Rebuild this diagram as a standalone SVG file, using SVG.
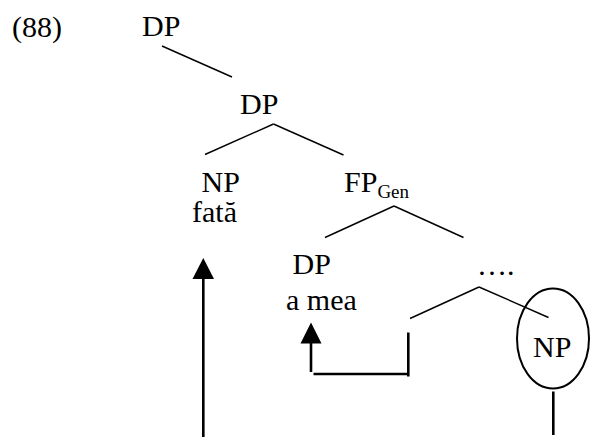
<svg xmlns="http://www.w3.org/2000/svg" width="590" height="442" viewBox="0 0 590 442">
<defs>
<style>
.tree{stroke:#000;stroke-width:1.4;fill:none}
.mv{stroke:#000;stroke-width:2.6;fill:none}
</style>
</defs>
<rect width="590" height="442" fill="#fff"/>
<g font-family="Liberation Serif, Times New Roman, DejaVu Serif, serif" font-size="30" fill="#000">
<text x="12" y="37">(88)</text>
<g id="dp-top"><text x="142" y="36">DP</text></g>
<g id="dp2"><text x="240" y="114">DP</text></g>
<g id="np-fata"><text x="201.5" y="191.5">NP</text><text x="192" y="222">fată</text></g>
<g id="fp-gen"><text x="344" y="192">FP<tspan font-size="19" dy="5.5">Gen</tspan></text></g>
<g id="dp-amea"><text x="292.5" y="274">DP</text><text x="286" y="310">a mea</text></g>
<g id="dots"><text x="477" y="275">….</text></g>
<g id="np-circle"><ellipse cx="553" cy="338.5" rx="36" ry="50" fill="none" stroke="#000" stroke-width="2"/><text x="533" y="356.5">NP</text></g>
</g>
<g id="connectors">
<line class="tree" x1="162" y1="46" x2="232" y2="77"/>
<line class="tree" x1="273.5" y1="124" x2="205" y2="154.5"/>
<line class="tree" x1="273.5" y1="124" x2="343.5" y2="155"/>
<line class="tree" x1="394" y1="206" x2="325" y2="237.5"/>
<line class="tree" x1="394" y1="206" x2="463.5" y2="237.5"/>
<line class="tree" x1="479" y1="287" x2="410" y2="318.5"/>
<line class="tree" x1="479" y1="287" x2="548.5" y2="317.5"/>
<line class="mv" x1="553.3" y1="391.5" x2="553.3" y2="435"/>
<line class="mv" x1="203.3" y1="437" x2="203.3" y2="276"/>
<path d="M192.5,279 L203.3,258 L214,279 z" fill="#000"/>
<line class="mv" x1="408.3" y1="332.5" x2="408.3" y2="376.5"/>
<line class="mv" x1="313.5" y1="374" x2="408.3" y2="374"/>
<line class="mv" x1="311" y1="372" x2="311" y2="341"/>
<path d="M300.5,343.5 L311,322.5 L321.5,343.5 z" fill="#000"/>
</g>
</svg>
